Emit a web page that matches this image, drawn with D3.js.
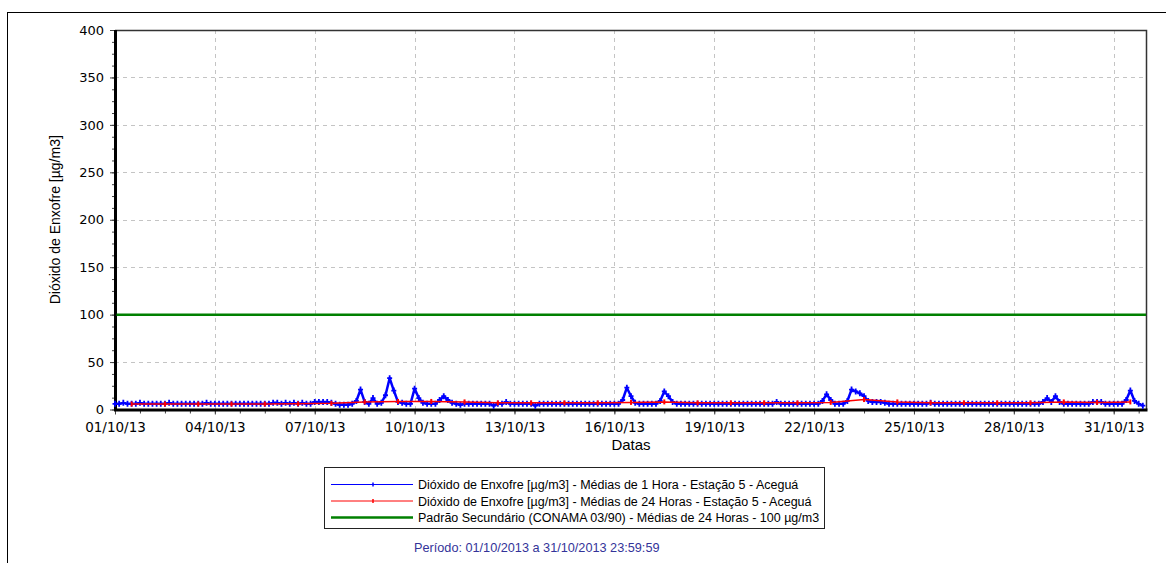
<!DOCTYPE html>
<html lang="pt">
<head>
<meta charset="UTF-8">
<title>Dióxido de Enxofre - Estação 5 - Aceguá</title>
<style>
  body { margin: 0; background: #fff; }
  svg { display: block; }
</style>
<script src="https://d3js.org/d3.v7.min.js"></script>
</head>
<body>
<script>
// 1 hour means, one value every 3 hours (00,03,06,09,12,15,18,21), one row per day
var startDate = new Date(2013, 9, 1, 0, 0, 0);
var endDate = new Date(2013, 9, 31, 23, 59, 59);
var stepHours = 3;
var so2OneHour = [
  6, 6, 7, 6, 6, 6, 7, 6,     // 01/10
  6, 6, 6, 6, 6, 7, 6, 6,     // 02/10
  6, 6, 6, 6, 6, 6, 7, 6,     // 03/10
  6, 6, 6, 6, 6, 6, 6, 6,     // 04/10
  6, 6, 6, 6, 6, 6, 7, 7,     // 05/10
  6, 7, 6, 7, 6, 7, 6, 6,     // 06/10
  8, 8, 8, 8, 7, 6, 5, 5,     // 07/10
  5, 6, 9, 21, 8, 6, 12, 6,   // 08/10
  7, 15, 33, 20, 8, 7, 6, 6,  // 09/10
  22, 12, 7, 6, 6, 6, 10, 14, // 10/10
  10, 7, 6, 5, 6, 6, 6, 6,    // 11/10
  6, 6, 6, 4, 6, 6, 8, 6,     // 12/10
  6, 6, 6, 6, 6, 4, 6, 6,     // 13/10
  6, 6, 6, 6, 6, 6, 6, 6,     // 14/10
  6, 6, 6, 6, 6, 6, 6, 6,     // 15/10
  6, 6, 10, 23, 14, 7, 6, 6,  // 16/10
  6, 6, 6, 9, 19, 14, 8, 6,   // 17/10
  6, 6, 6, 6, 6, 6, 6, 6,     // 18/10
  6, 6, 6, 6, 6, 6, 6, 6,     // 19/10
  6, 6, 6, 6, 6, 6, 6, 8,     // 20/10
  6, 6, 6, 6, 6, 6, 6, 6,     // 21/10
  6, 6, 9, 16, 10, 6, 6, 6,   // 22/10
  9, 21, 19, 17, 14, 9, 8, 8, // 23/10
  8, 7, 6, 6, 6, 6, 6, 6,     // 24/10
  6, 6, 6, 6, 7, 6, 6, 6,     // 25/10
  6, 6, 6, 6, 6, 6, 6, 6,     // 26/10
  6, 6, 6, 6, 6, 6, 6, 6,     // 27/10
  6, 6, 6, 6, 6, 6, 6, 8,     // 28/10
  12, 8, 14, 8, 6, 6, 6, 6,   // 29/10
  6, 6, 6, 8, 8, 8, 6, 6,     // 30/10
  6, 6, 6, 10, 20, 9, 6, 4    // 31/10
];
// 24 hour means, one value per day (plotted at 12:00)
var so2TwentyFour = [
  5.8, 5.8, 5.8, 5.8, 5.8, 6, 6.5, 8, 8.5, 8.5,
  8, 7, 7, 7, 7, 7.5, 8, 7, 7, 7,
  7, 7.5, 10.5, 8, 7, 7, 7, 7, 8, 7.5,
  8
];
var standardLevel = 100;
var yTickValues = [0, 50, 100, 150, 200, 250, 300, 350, 400];
var xTickLabels = ["01/10/13", "04/10/13", "07/10/13", "10/10/13", "13/10/13", "16/10/13",
  "19/10/13", "22/10/13", "25/10/13", "28/10/13", "31/10/13"];
var legendLabels = [
  "Dióxido de Enxofre [µg/m3] - Médias de 1 Hora - Estação 5 - Aceguá",
  "Dióxido de Enxofre [µg/m3] - Médias de 24 Horas - Estação 5 - Aceguá",
  "Padrão Secundário (CONAMA 03/90) - Médias de 24 Horas - 100 µg/m3"
];
var periodLabel = "Período: 01/10/2013 a 31/10/2013 23:59:59";

var width = 1166, height = 563;
var plotLeft = 115, plotRight = 1147, plotTop = 30, plotBottom = 409.5;
var blue = "#0000ff", red = "#ff0000", green = "#008000";

var parseTick = d3.timeParse("%d/%m/%y");
var hourly = so2OneHour.map(function (v, i) {
  return { date: d3.timeHour.offset(startDate, i * stepHours), value: v };
});
var daily = so2TwentyFour.map(function (v, i) {
  return { date: d3.timeHour.offset(startDate, i * 24 + 12), value: v };
});

var x = d3.scaleTime().domain([startDate, endDate]).range([plotLeft, plotRight]);
var y = d3.scaleLinear().domain([0, 400]).range([plotBottom, plotTop]);

var svg = d3.select("body").append("svg")
  .attr("width", width)
  .attr("height", height);

// outer frame
svg.append("rect")
  .attr("x", 7.5).attr("y", 12.5)
  .attr("width", 1200).attr("height", 600)
  .attr("fill", "#fff").attr("stroke", "#000");

// grid
var grid = svg.append("g").attr("stroke", "#c4c4c4").attr("stroke-dasharray", "4,4");
grid.selectAll("line.h").data(yTickValues.filter(function (d) { return d > 0 && d < 400; }))
  .enter().append("line")
  .attr("x1", plotLeft).attr("x2", plotRight)
  .attr("y1", function (d) { return Math.round(y(d)) + 0.5; })
  .attr("y2", function (d) { return Math.round(y(d)) + 0.5; });
grid.selectAll("line.v").data(xTickLabels.slice(1).map(parseTick))
  .enter().append("line")
  .attr("y1", plotTop).attr("y2", plotBottom)
  .attr("x1", function (d) { return Math.round(x(d)) + 0.5; })
  .attr("x2", function (d) { return Math.round(x(d)) + 0.5; });

// minor ticks
var minorY = d3.range(0, 401, 12.5);
svg.append("g")
  .attr("transform", "translate(" + plotLeft + ",0)")
  .call(d3.axisLeft(y).tickValues(minorY).tickSize(3).tickFormat(""))
  .call(function (g) { g.select(".domain").remove(); g.selectAll("line").attr("stroke", "#444"); });
var minorX = d3.range(0, 31 * 24 + 1, 18).map(function (h) { return d3.timeHour.offset(startDate, h); });
svg.append("g")
  .attr("transform", "translate(0," + plotBottom + ")")
  .call(d3.axisBottom(x).tickValues(minorX).tickSize(4).tickFormat(""))
  .call(function (g) { g.select(".domain").remove(); g.selectAll("line").attr("stroke", "#444"); });

// major axes
svg.append("g")
  .attr("transform", "translate(" + plotLeft + ",0)")
  .call(d3.axisLeft(y).tickValues(yTickValues).tickSize(5).tickPadding(6))
  .call(function (g) {
    g.select(".domain").remove();
    g.selectAll("line").attr("stroke", "#444");
    g.selectAll("text").attr("font-family", "DejaVu Sans").attr("font-size", 13).attr("fill", "#000");
  });
svg.append("g")
  .attr("transform", "translate(0," + plotBottom + ")")
  .call(d3.axisBottom(x).tickValues(xTickLabels.map(parseTick)).tickSize(5).tickPadding(8)
    .tickFormat(d3.timeFormat("%d/%m/%y")))
  .call(function (g) {
    g.select(".domain").remove();
    g.selectAll("line").attr("stroke", "#444");
    g.selectAll("text").attr("font-family", "DejaVu Sans").attr("font-size", 13.5).attr("fill", "#000");
  });

// plot border: thin top/right, thick left/bottom
svg.append("path")
  .attr("d", "M" + plotLeft + "," + (plotTop + 0.5) + "H" + (plotRight - 0.5) + "V" + plotBottom)
  .attr("fill", "none").attr("stroke", "#333").attr("stroke-width", 1.5);
svg.append("path")
  .attr("d", "M" + (plotLeft + 0.5) + "," + plotTop + "V" + (plotBottom + 0.5) + "H" + (plotRight + 0.5))
  .attr("fill", "none").attr("stroke", "#000").attr("stroke-width", 3);

var plot = svg.append("g");

// 1 hour series
var line = d3.line().x(function (d) { return x(d.date); }).y(function (d) { return y(d.value); });
plot.append("path").datum(hourly)
  .attr("d", line).attr("fill", "none").attr("stroke", blue).attr("stroke-width", 2.5)
  .attr("stroke-linejoin", "round");
plot.selectAll("path.m1").data(hourly).enter().append("path")
  .attr("transform", function (d) { return "translate(" + x(d.date) + "," + y(d.value) + ")"; })
  .attr("d", "M-2.5,0H2.5M0,-3V3")
  .attr("stroke", blue).attr("stroke-width", 1.8);

// 24 hour series
plot.append("path").datum(daily)
  .attr("d", line).attr("fill", "none").attr("stroke", red).attr("stroke-width", 1.5);
plot.selectAll("path.m24").data(daily).enter().append("path")
  .attr("transform", function (d) { return "translate(" + x(d.date) + "," + y(d.value) + ")"; })
  .attr("d", "M0,-2.5V2.5")
  .attr("stroke", red).attr("stroke-width", 2);

// standard
plot.append("line")
  .attr("x1", plotLeft + 1.5).attr("x2", plotRight - 1)
  .attr("y1", y(standardLevel)).attr("y2", y(standardLevel))
  .attr("stroke", green).attr("stroke-width", 2.5);

// axis titles
svg.append("text")
  .attr("x", (plotLeft + plotRight) / 2).attr("y", 450)
  .attr("text-anchor", "middle")
  .attr("font-family", "Liberation Sans, Arial").attr("font-size", 15)
  .text("Datas");
svg.append("text")
  .attr("transform", "translate(60," + ((plotTop + plotBottom) / 2) + ") rotate(-90)")
  .attr("text-anchor", "middle")
  .attr("font-family", "Liberation Sans, Arial").attr("font-size", 14)
  .text("Dióxido de Enxofre [µg/m3]");

// legend
var legend = svg.append("g");
legend.append("rect")
  .attr("x", 324.5).attr("y", 467.5).attr("width", 500).attr("height", 61)
  .attr("fill", "#fff").attr("stroke", "#222");
var legendColors = [blue, red, green];
var rows = legend.selectAll("g.row").data(legendLabels).enter().append("g")
  .attr("transform", function (d, i) { return "translate(0," + (484.5 + i * 16.5) + ")"; });
rows.append("line")
  .attr("x1", 331).attr("x2", 413)
  .attr("stroke", function (d, i) { return legendColors[i]; })
  .attr("stroke-width", function (d, i) { return i === 2 ? 2.5 : 1; });
rows.filter(function (d, i) { return i < 2; }).append("line")
  .attr("x1", 373).attr("x2", 373).attr("y1", -2).attr("y2", 2)
  .attr("stroke", function (d, i) { return legendColors[i]; }).attr("stroke-width", 1.5);
rows.append("text")
  .attr("x", 418).attr("y", 4.5)
  .attr("font-family", "Liberation Sans, Arial").attr("font-size", 12.5)
  .attr("fill", "#000")
  .text(function (d) { return d; });

svg.append("text")
  .attr("x", 414).attr("y", 551.5)
  .attr("font-family", "Liberation Sans, Arial").attr("font-size", 12.7)
  .attr("fill", "#333399")
  .text(periodLabel);
</script>
</body>
</html>
